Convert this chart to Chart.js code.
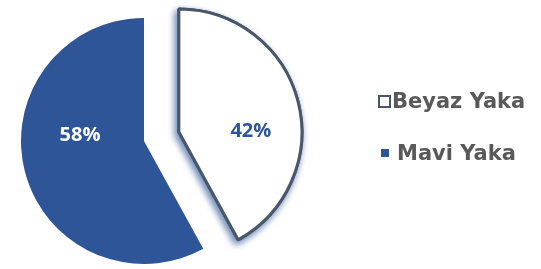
<!DOCTYPE html>
<html lang="tr">
<head>
<meta charset="UTF-8">
<title>Beyaz / Mavi Yaka</title>
<style>
    body { margin: 0; background: #fff; }
    .wrap { position: relative; width: 541px; height: 269px; }
    #legend {
        position: absolute; left: 378px; top: 87px;
        font-family: "DejaVu Sans", sans-serif; font-weight: bold;
        font-size: 21px; color: #595959;
    }
    .item { display: flex; align-items: center; height: 28px; margin-bottom: 24px; }
    .box { box-sizing: border-box; margin-right: 1px; }
</style>
</head>
<body>
<div class="wrap">
    <canvas id="pie" width="541" height="269"></canvas>
    <div id="legend"></div>
</div>
<script src="https://cdn.jsdelivr.net/npm/chart.js"></script>
<script>
    const labels = ['Beyaz Yaka', 'Mavi Yaka'];
    const values = [42, 58];
    const fills = ['#ffffff', '#2e5597'];
    const borders = ['#4a576b', '#2e5597'];
    const textColors = ['#2e5597', '#ffffff'];
    // how far each slice is pulled out of the pie, px
    const explode = [36, 0];
    // where the % text sits, as a share of the radius from the slice's centre
    const labelDx = [0.585, -0.52];
    const labelDy = [-0.01, -0.05];

    // Chart.js' own offset also grows the arc, so shift the slice ourselves
    function shiftOf(arc, i) {
        const p = arc.getProps(['startAngle', 'endAngle'], true);
        const mid = (p.startAngle + p.endAngle) / 2;
        return [Math.cos(mid) * explode[i], Math.sin(mid) * explode[i]];
    }

    const sliceLabels = {
        id: 'sliceLabels',
        beforeDatasetsDraw(chart) {
            // soft blue shadow under the exploded white slice
            const arc = chart.getDatasetMeta(0).data[0];
            const ctx = chart.ctx;
            ctx.save();
            ctx.shadowColor = 'rgba(46,85,151,0.75)';
            ctx.shadowBlur = 7;
            ctx.shadowOffsetX = -2;
            ctx.shadowOffsetY = 3;
            arc.draw(ctx);
            ctx.restore();
        },
        afterDatasetsDraw(chart) {
            const ctx = chart.ctx;
            const meta = chart.getDatasetMeta(0);
            const total = values.reduce((a, b) => a + b, 0);
            ctx.save();
            ctx.font = 'bold 20px "Open Sans", sans-serif';
            ctx.textAlign = 'center';
            ctx.textBaseline = 'middle';
            meta.data.forEach((arc, i) => {
                const p = arc.getProps(['x', 'y', 'outerRadius'], true);
                const [sx, sy] = shiftOf(arc, i);
                ctx.fillStyle = textColors[i];
                ctx.fillText(Math.round(values[i] / total * 100) + '%',
                    p.x + sx + labelDx[i] * p.outerRadius,
                    p.y + sy + labelDy[i] * p.outerRadius);
            });
            ctx.restore();
        }
    };

    const chart = new Chart(document.getElementById('pie'), {
        type: 'pie',
        data: {
            labels: labels,
            datasets: [{
                data: values,
                backgroundColor: fills,
                borderColor: borders,
                borderWidth: [3, 0],
                clip: false
            }]
        },
        options: {
            responsive: false,
            animation: false,
            radius: 123,
            layout: { padding: { left: 0, right: 253, top: 13, bottom: 0 } },
            plugins: {
                legend: { display: false },
                tooltip: { enabled: false }
            }
        },
        plugins: [sliceLabels]
    });

    chart.getDatasetMeta(0).data.forEach((arc, i) => {
        const baseDraw = arc.draw.bind(arc);
        arc.draw = function (ctx) {
            const [sx, sy] = shiftOf(arc, i);
            ctx.save();
            ctx.translate(sx, sy);
            baseDraw(ctx);
            ctx.restore();
        };
    });
    chart.draw();

    // legend on the right
    const legend = document.getElementById('legend');
    labels.forEach((name, i) => {
        const item = document.createElement('div');
        item.className = 'item';
        const box = document.createElement('span');
        box.className = 'box';
        if (i === 0) {
            box.style.cssText = 'width:13px;height:13px;border:2px solid #4a576b;background:#fff;';
        } else {
            box.style.cssText = 'width:8px;height:8px;background:#2e5597;margin-left:3px;margin-right:8px;';
        }
        item.appendChild(box);
        item.appendChild(document.createTextNode(name));
        legend.appendChild(item);
    });
</script>
</body>
</html>
